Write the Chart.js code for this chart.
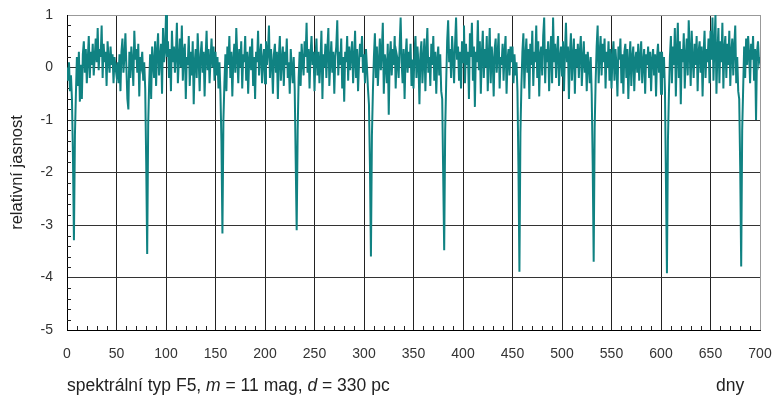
<!DOCTYPE html>
<html>
<head>
<meta charset="utf-8">
<script src="https://cdn.jsdelivr.net/npm/chart.js@4/dist/chart.umd.min.js"></script>
<style>
  html, body { margin: 0; padding: 0; background: #fff; }
  #wrap { position: relative; width: 772px; height: 398px; }
  canvas { position: absolute; left: 0; top: 0; }
  .cap { position: absolute; font-family: "Liberation Sans", Arial, sans-serif; font-size: 17.5px; line-height: 20px; color: #222; white-space: nowrap; }
</style>
</head>
<body>
<div id="wrap">
  <canvas id="c" width="772" height="398"></canvas>
  <div class="cap" id="caption" style="left:67px; top:375px;">spektrální typ F5, <i>m</i> = 11 mag, <i>d</i> = 330 pc</div>
  <div class="cap" id="xunit" style="left:716px; top:375px;">dny</div>
</div>
<script>
// time grid (days): one value per day from day 0
const dayStart = 0;
const dayStep = 1;
// relative brightness, one value per day, days 0-700
const brightness = [
  // days 0-49
  0.0, -0.25, 0.1, -0.45, -0.15, -0.6, -1.67, -3.29, -1.3, -0.5,
  0.2, -0.35, 0.3, -0.65, 0.05, -0.6, 0.25, 0.5, -0.1, 0.35,
  -0.3, 0.15, 0.6, -0.2, 0.3, 0.05, 0.45, -0.15, 0.2, 0.55,
  0.1, 0.75, -0.05, 0.35, 0.2, 0.8, -0.2, 0.45, 0.1, 0.3,
  -0.35, 0.5, 0.15, -0.1, 0.4, 0.05, 0.25, -0.3, 0.2, 0.0,
  // days 50-99
  -0.15, 0.1, -0.3, 0.25, -0.45, 0.3, 0.55, -0.1, 0.2, 0.65,
  0.0, -0.6, -0.8, 0.3, -0.2, 0.4, 0.1, -0.35, 0.7, 0.15,
  0.35, -0.1, 0.45, -0.55, 0.2, 0.05, 0.3, -0.25, 0.1, -0.4,
  -1.8, -3.55, -1.1, -0.3, 0.25, -0.6, 0.4, 0.1, -0.2, 0.5,
  -0.35, 0.3, 0.65, -0.15, 0.2, 0.45, -0.5, 0.75, 0.1, 0.3,
  // days 100-149
  1.0, 0.2, 0.5, -0.2, 0.35, -0.45, 0.7, 0.1, 0.4, -0.1,
  0.25, 0.85, -0.3, 0.15, 0.55, 0.0, 0.8, -0.25, 0.3, 0.45,
  -0.6, 0.2, 0.05, 0.6, -0.35, 0.3, -0.15, 0.5, -0.7, 0.1,
  0.35, -0.2, 0.65, 0.15, -0.45, 0.25, 0.5, -0.1, 0.3, -0.55,
  0.2, 0.7, -0.05, 0.35, -0.3, 0.15, 0.55, 0.0, 0.4, -0.25,
  // days 150-199
  0.3, -0.15, 0.2, -0.4, 0.1, -0.5, -1.41, -3.16, -1.0, -0.3,
  0.25, -0.45, 0.4, 0.05, 0.6, -0.2, 0.3, -0.55, 0.15, 0.45,
  -0.1, 0.75, 0.2, -0.3, 0.35, 0.0, 0.5, -0.4, 0.25, 0.1,
  0.6, -0.25, 0.3, -0.5, 0.15, 0.4, -0.05, 0.55, -0.35, 0.2,
  -0.6, 0.3, 0.1, 0.7, -0.15, 0.25, 0.45, -0.3, 0.15, 0.35,
  // days 200-249
  -0.3, 0.5, 0.05, 0.3, 0.8, -0.2, 0.35, 0.1, -0.5, 0.25,
  0.45, -0.1, 0.3, -0.6, 0.2, 0.6, -0.25, 0.15, 0.4, -0.35,
  0.3, 0.05, 0.55, -0.2, 0.1, -0.5, 0.35, 0.0, -0.3, 0.2,
  -0.4, -1.76, -3.1, -1.2, -0.2, 0.3, -0.35, 0.45, 0.1, -0.15,
  0.5, 0.2, 0.85, -0.1, 0.35, -0.4, 0.25, 0.6, 0.05, 0.3,
  // days 250-299
  -0.45, 0.2, 0.55, -0.15, 0.3, -0.3, 0.1, 0.7, -0.6, 0.25,
  0.0, 0.45, -0.2, 0.35, 0.75, -0.35, 0.1, 0.5, -0.1, 0.3,
  -0.5, 0.2, 0.4, 0.9, -0.15, 0.3, 0.05, 0.55, -0.4, 0.2,
  -0.65, 0.3, 0.1, 0.6, -0.25, 0.4, -0.05, 0.25, 0.5, -0.3,
  0.15, 0.7, -0.2, 0.35, -0.45, 0.1, 0.45, 0.2, 0.6, -0.1,
  // days 300-349
  0.25, -0.3, 0.35, 0.0, -0.4, -0.7, -1.86, -3.6, -1.3, -0.45,
  0.2, 0.65, -0.2, 0.4, -0.35, 0.1, 0.55, -0.05, 0.3, 0.85,
  -0.5, 0.25, 0.1, -0.3, 0.45, -0.9, 0.2, 0.5, -0.15, 0.35,
  0.05, 0.6, -0.4, 0.25, 0.15, -0.2, 0.4, 0.95, 0.1, -0.3,
  0.35, -0.6, 0.2, 0.55, -0.1, 0.3, 0.0, 0.45, -0.35, 0.15,
  // days 350-399
  -0.4, 0.3, 0.6, -0.2, 0.4, 0.1, -0.7, 0.25, 0.5, -0.3,
  0.15, 0.55, -0.45, 0.3, 0.75, -0.1, 0.2, -0.35, 0.45, 0.05,
  0.6, -0.25, 0.3, -0.5, 0.15, 0.4, -0.15, 0.25, -0.45, -0.6,
  -2.05, -3.48, -1.2, -0.3, 0.5, 0.9, 0.1, 0.35, -0.2, 0.6,
  0.2, -0.3, 0.45, 0.95, 0.15, 0.4, -0.25, 0.3, -0.4, 0.5,
  // days 400-449
  0.1, 0.8, -0.3, 0.45, 0.05, 0.3, -0.6, 0.65, 0.2, 0.85,
  -0.25, 0.4, -0.75, 0.3, 0.1, 0.9, -0.05, 0.5, -0.5, 0.25,
  0.7, -0.2, 0.35, 0.0, 0.6, -0.45, 0.2, 0.75, -0.3, 0.4,
  0.15, -0.55, 0.35, 0.55, -0.1, 0.25, 0.65, -0.4, 0.2, 0.05,
  0.45, -0.25, 0.3, 0.6, -0.5, 0.15, 0.35, -0.15, 0.4, 0.1,
  // days 450-499
  0.4, -0.3, 0.25, -0.15, 0.1, -0.45, -1.89, -3.89, -1.25, -0.35,
  0.3, 0.65, -0.4, 0.2, 0.55, -0.1, 0.35, -0.6, 0.45, 0.05,
  0.7, -0.35, 0.3, 0.1, 0.8, -0.2, 0.5, -0.55, 0.25, 0.4,
  -0.15, 0.6, 0.95, -0.3, 0.35, 0.1, 0.5, -0.45, 0.25, 0.6,
  -0.3, 0.95, 0.1, 0.45, -0.2, 0.3, 0.6, -0.35, 0.2, 0.4,
  // days 500-549
  -0.15, 0.5, -0.45, 0.3, 0.85, 0.1, 0.4, -0.6, 0.25, 0.65,
  -0.25, 0.2, 0.55, -0.5, 0.35, 0.0, 0.45, -0.2, 0.3, 0.6,
  -0.35, 0.15, 0.5, -0.1, 0.25, -0.45, 0.3, 0.05, -0.3, 0.2,
  -0.5, -1.82, -3.7, -1.15, -0.25, 0.4, 0.8, -0.3, 0.25, 0.6,
  -0.15, 0.45, 0.1, 0.55, -0.4, 0.3, 0.0, 0.5, -0.25, 0.35,
  // days 550-599
  -0.4, 0.2, 0.5, -0.25, 0.35, 0.05, -0.55, 0.4, 0.15, 0.55,
  -0.3, 0.25, -0.5, 0.3, 0.45, -0.2, 0.35, -0.6, 0.1, 0.5,
  -0.35, 0.2, 0.4, -0.45, 0.15, 0.3, -0.1, 0.45, -0.25, 0.2,
  0.5, -0.3, 0.1, 0.35, -0.5, 0.25, 0.05, 0.4, -0.2, 0.3,
  -0.45, 0.15, 0.35, -0.15, 0.25, -0.55, 0.2, 0.45, -0.1, 0.3,
  // days 600-649
  -0.5, 0.3, -0.2, 0.2, -0.45, -2.17, -3.92, -1.4, -0.5, 0.2,
  0.6, -0.3, 0.4, 0.05, 0.75, -0.55, 0.3, 0.85, -0.2, 0.5,
  -0.7, 0.35, 0.1, 0.65, -0.4, 0.2, 0.55, -0.15, 0.9, 0.3,
  -0.35, 0.7, 0.15, -0.2, 0.45, 0.05, 0.6, -0.45, 0.3, 0.5,
  -0.1, 0.4, -0.55, 0.25, 0.7, -0.2, 0.35, 0.1, 0.55, -0.3,
  // days 650-700
  0.7, 0.15, 0.95, -0.25, 0.45, 1.0, -0.5, 0.3, 0.75, -0.3,
  0.5, 0.1, 0.85, -0.4, 0.35, 0.6, -0.2, 0.45, 0.05, 0.7,
  -0.35, 0.3, 0.55, -0.15, 0.4, 0.8, -0.3, 0.2, -0.45, -0.6,
  -1.89, -3.79, -1.2, -0.4, 0.4, -0.2, 0.55, 0.05, 0.6, 0.25,
  -0.3, 0.45, 0.15, 0.6, -0.25, 0.35, -1.0, 0.3, 0.5, 0.1,
  0.2
];
const xTicks = [0, 50, 100, 150, 200, 250, 300, 350, 400, 450, 500, 550, 600, 650, 700];
const yTicks = [1, 0, -1, -2, -3, -4, -5];

const points = brightness.map((v, i) => ({ x: dayStart + i * dayStep, y: v }));
const FONT = '"Liberation Sans", Arial, sans-serif';

const minorTicks = {
  id: 'minorTicks',
  beforeDatasetsDraw(chart) {
    const { ctx, chartArea: a, scales: { x, y } } = chart;
    ctx.save();
    ctx.strokeStyle = '#222';
    ctx.lineWidth = 1;
    ctx.beginPath();
    for (let d = x.min + 10; d < x.max; d += 10) {
      if (d % 50 === 0) continue;
      const px = Math.round(x.getPixelForValue(d)) + 0.5;
      ctx.moveTo(px, a.bottom);
      ctx.lineTo(px, a.bottom - 4);
    }
    for (let k = 1; k < (y.max - y.min) * 5; k++) {
      if (k % 5 === 0) continue;
      const v = y.min + k * 0.2;
      const py = Math.round(y.getPixelForValue(v)) + 0.5;
      ctx.moveTo(a.left, py);
      ctx.lineTo(a.left + 4, py);
    }
    ctx.stroke();
    ctx.restore();
  }
};

new Chart(document.getElementById('c'), {
  type: 'line',
  data: {
    datasets: [{
      data: points,
      borderColor: '#108282',
      borderWidth: 2,
      pointRadius: 0,
      tension: 0,
      fill: false
    }]
  },
  options: {
    responsive: false,
    devicePixelRatio: 1,
    animation: false,
    plugins: { legend: { display: false }, tooltip: { enabled: false } },
    layout: { padding: { top: 15, right: 12, left: 0, bottom: 0 } },
    scales: {
      x: {
        type: 'linear',
        min: 0, max: 700,
        afterBuildTicks: s => { s.ticks = xTicks.map(v => ({ value: v })); },
        afterFit: s => { s.height = 68; s.paddingLeft = 0; s.paddingRight = 0; },
        ticks: { font: { family: FONT, size: 14 }, color: '#333', padding: 16, maxRotation: 0, autoSkip: false },
        grid: {
          drawTicks: false,
          color: c => (c.tick && c.tick.value === 700) ? '#999' : '#222',
          lineWidth: 1
        },
        border: { display: true, color: '#000', width: 1 }
      },
      y: {
        min: -5, max: 1,
        afterBuildTicks: s => { s.ticks = yTicks.map(v => ({ value: v })); },
        afterFit: s => { s.width = 67; s.paddingTop = 0; s.paddingBottom = 0; },
        ticks: { font: { family: FONT, size: 14 }, color: '#333', padding: 14 },
        grid: {
          drawTicks: false,
          color: c => (c.tick && c.tick.value === 1) ? '#999' : '#333',
          lineWidth: 1
        },
        border: { display: true, color: '#000', width: 1 },
        title: { display: true, text: 'relativní jasnost', font: { family: FONT, size: 16.5 }, color: '#222', padding: { top: 8, bottom: 0 } }
      }
    }
  },
  plugins: [minorTicks]
});
</script>
</body>
</html>
